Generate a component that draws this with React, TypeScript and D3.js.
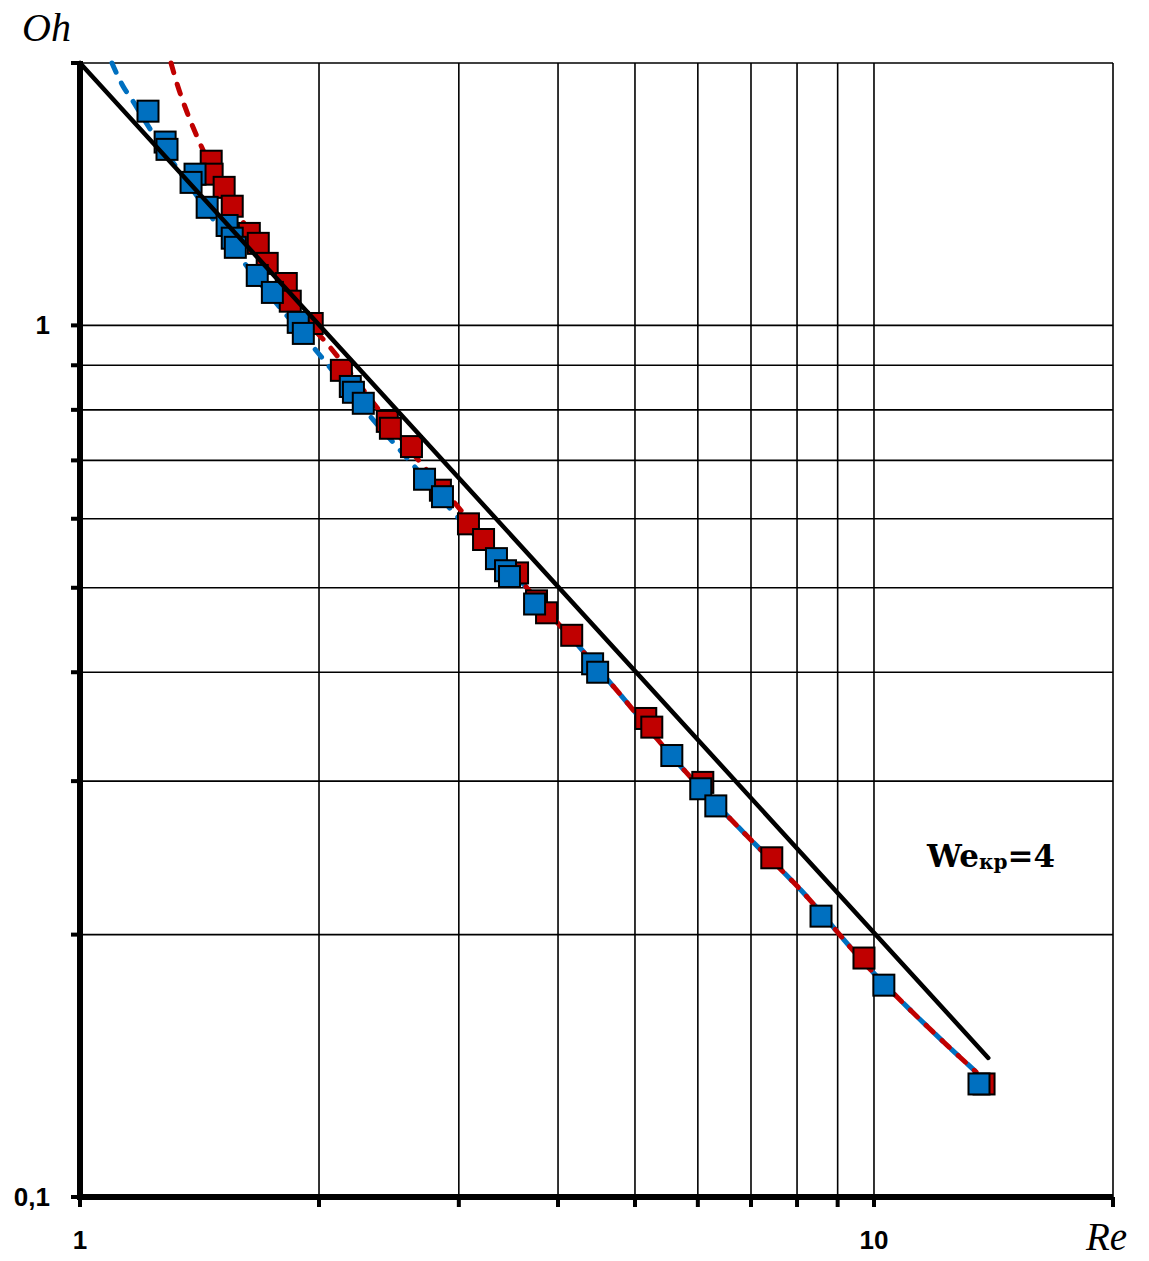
import React from 'react';
import * as d3 from 'd3';

// Axis tick / grid values
const xGrid = [2, 3, 4, 5, 6, 7, 8, 9, 10, 20];
const yGrid = [0.2, 0.3, 0.4, 0.5, 0.6, 0.7, 0.8, 0.9, 1, 2];
const xTickMarks = [1, 2, 3, 4, 5, 6, 7, 8, 9, 10, 20];
const yTickMarks = [0.1, 0.2, 0.3, 0.4, 0.5, 0.6, 0.7, 0.8, 0.9, 1, 2];
const xLabels = [
  { v: 1, t: '1' },
  { v: 10, t: '10' },
];
const yLabels = [
  { v: 1, t: '1' },
  { v: 0.1, t: '0,1' },
];

// Red series (squares)
const redRe = [1.463, 1.467, 1.519, 1.555, 1.634, 1.677, 1.721, 1.819, 1.84, 1.961, 2.134, 2.438, 2.46, 2.615, 2.844, 3.085, 3.223, 3.557, 3.758, 3.869, 4.162, 5.159, 5.25, 6.087, 7.435, 9.714, 13.76];
const redOh = [1.543, 1.491, 1.44, 1.37, 1.275, 1.242, 1.178, 1.117, 1.066, 1.005, 0.888, 0.776, 0.762, 0.726, 0.647, 0.592, 0.568, 0.52, 0.483, 0.468, 0.441, 0.354, 0.346, 0.299, 0.245, 0.188, 0.1348];

// Blue series (squares)
const blueRe = [1.218, 1.28, 1.287, 1.396, 1.38, 1.446, 1.532, 1.555, 1.569, 1.672, 1.747, 1.883, 1.911, 2.19, 2.21, 2.274, 2.716, 2.861, 3.346, 3.435, 3.475, 3.737, 4.422, 4.487, 5.564, 6.051, 6.321, 8.576, 10.29, 13.56];
const blueOh = [1.761, 1.623, 1.592, 1.491, 1.459, 1.366, 1.302, 1.259, 1.229, 1.141, 1.091, 1.008, 0.979, 0.851, 0.838, 0.814, 0.666, 0.636, 0.54, 0.523, 0.515, 0.479, 0.409, 0.4, 0.321, 0.294, 0.281, 0.21, 0.175, 0.1348];

// Red dashed trend
const redTrendRe = [1.302, 1.329, 1.364, 1.409, 1.555, 1.677, 1.84, 2.061, 2.376, 2.684, 2.998, 3.64, 4.7, 5.709, 6.936, 8.089, 9.827, 11.9, 13.45];
const redTrendOh = [2.0, 1.877, 1.756, 1.635, 1.37, 1.242, 1.066, 0.946, 0.801, 0.696, 0.618, 0.502, 0.385, 0.312, 0.259, 0.225, 0.1836, 0.1543, 0.1391];

// Blue dashed trend
const blueTrendRe = [1.097, 1.133, 1.166, 1.208, 1.405, 1.591, 1.996, 2.321, 2.63, 2.954, 3.64, 4.7, 5.709, 6.936, 8.089, 9.827, 11.9, 13.45];
const blueTrendOh = [2.0, 1.881, 1.808, 1.715, 1.406, 1.197, 0.929, 0.786, 0.691, 0.61, 0.502, 0.385, 0.312, 0.259, 0.225, 0.1836, 0.1543, 0.1391];

// Black solid line Oh = 2/Re
const blackRe = [1, 13.93];
const blackOh = [2, 0.1444];

const RED = '#C00000';
const BLUE = '#0070C0';

export default function App() {
  const x = d3.scaleLog().domain([1, 20]).range([80, 1113]);
  const y = d3.scaleLog().domain([0.1, 2]).range([1197, 63]);

  const curve = d3
    .line<[number, number]>()
    .x((d) => x(d[0]))
    .y((d) => y(d[1]))
    .curve(d3.curveMonotoneX);
  const straight = d3
    .line<[number, number]>()
    .x((d) => x(d[0]))
    .y((d) => y(d[1]));

  const zip = (a: number[], b: number[]) => a.map((v, i) => [v, b[i]] as [number, number]);

  const S = 21;
  const [x0, x1] = x.range();
  const [y0, y1] = y.range();

  return (
    <svg width={1149} height={1261} style={{ display: 'block', background: '#fff' }}>
      <style>{`body{margin:0}`}</style>
      {/* grid */}
      <g stroke="#000" strokeWidth={1.6}>
        {xGrid.map((v) => (
          <line key={'gx' + v} x1={x(v)} x2={x(v)} y1={y0} y2={y1} />
        ))}
        {yGrid.map((v) => (
          <line key={'gy' + v} x1={x0} x2={x1} y1={y(v)} y2={y(v)} />
        ))}
      </g>
      {/* tick marks */}
      <g stroke="#000" strokeWidth={4}>
        {yTickMarks.map((v) => (
          <line key={'ty' + v} x1={71} x2={x0} y1={y(v)} y2={y(v)} />
        ))}
        {xTickMarks.map((v) => (
          <line key={'tx' + v} x1={x(v)} x2={x(v)} y1={y0} y2={1207} />
        ))}
      </g>
      {/* trend lines */}
      <path d={curve(zip(blueTrendRe, blueTrendOh)) || ''} fill="none" stroke={BLUE} strokeWidth={5} strokeDasharray="10 12" strokeLinecap="round" />
      <path d={curve(zip(redTrendRe, redTrendOh)) || ''} fill="none" stroke={RED} strokeWidth={5} strokeDasharray="10 12" strokeLinecap="round" />
      {/* red squares */}
      <g fill={RED} stroke="#000" strokeWidth={2}>
        {zip(redRe, redOh).map((d, i) => (
          <rect key={'r' + i} x={x(d[0]) - S / 2} y={y(d[1]) - S / 2} width={S} height={S} />
        ))}
      </g>
      {/* blue squares */}
      <g fill={BLUE} stroke="#000" strokeWidth={2}>
        {zip(blueRe, blueOh).map((d, i) => (
          <rect key={'b' + i} x={x(d[0]) - S / 2} y={y(d[1]) - S / 2} width={S} height={S} />
        ))}
      </g>
      {/* black line */}
      <path d={straight(zip(blackRe, blackOh)) || ''} fill="none" stroke="#000" strokeWidth={4.5} strokeLinecap="round" />
      {/* axes */}
      <line x1={x0} x2={x0} y1={y1 - 2} y2={y0 + 3} stroke="#000" strokeWidth={6} />
      <line x1={x0 - 3} x2={x1} y1={y0} y2={y0} stroke="#000" strokeWidth={6} />
      {/* labels */}
      <g fontFamily="'Liberation Sans', Arial, sans-serif" fontWeight="bold" fontSize={26} fill="#000">
        {yLabels.map((l) => (
          <text key={'yl' + l.t} x={50} y={y(l.v)} textAnchor="end" dominantBaseline="central">
            {l.t}
          </text>
        ))}
        {xLabels.map((l) => (
          <text key={'xl' + l.t} x={x(l.v)} y={1240} textAnchor="middle" dominantBaseline="central">
            {l.t}
          </text>
        ))}
      </g>
      <text x={22} y={41} fontFamily="'Liberation Serif', 'Times New Roman', serif" fontStyle="italic" fontSize={40}>
        Oh
      </text>
      <text x={1086} y={1250} fontFamily="'Liberation Serif', 'Times New Roman', serif" fontStyle="italic" fontSize={39}>
        Re
      </text>
      <text x={927} y={867} fontFamily="'DejaVu Serif', serif" fontWeight="bold" fontSize={31}>
        We
        <tspan fontSize={20} dy={2}>кр</tspan>
        <tspan fontSize={31} dy={-2}>=4</tspan>
      </text>
    </svg>
  );
}
